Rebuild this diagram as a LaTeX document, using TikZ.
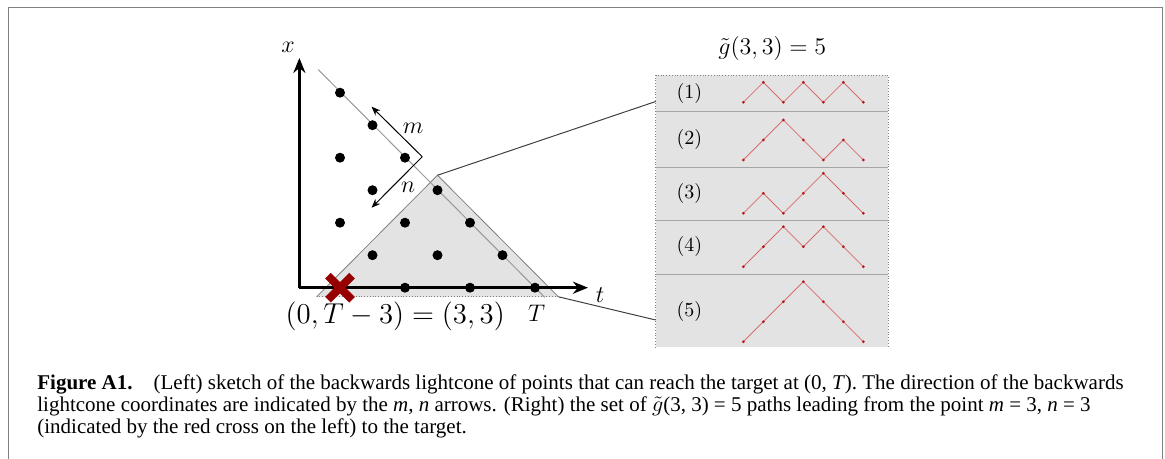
\documentclass[tikz,border=0pt]{standalone}
\usepackage{fontspec}
\setmainfont{Liberation Serif}
\usetikzlibrary{arrows, arrows.meta, positioning, calc}
\usepackage{xcolor}

\definecolor{crossred}{RGB}{150,0,0}
\definecolor{pathred}{RGB}{215,110,110}
\definecolor{pathdot}{RGB}{190,20,20}

\begin{document}
\begin{tikzpicture}[x=0.5pt, y=-0.5pt,
    dotnode/.style={circle, fill=black, inner sep=0pt, minimum size=5pt},
    axis/.style={-{Stealth[length=7.5pt,width=6pt]}, line width=1.3pt},
    lcarrow/.style={-{Stealth[length=4.5pt,width=3.5pt]}, line width=0.5pt},
    bigmath/.style={font=\fontsize{13}{15}\selectfont},
    pathline/.style={pathred, line width=0.4pt},
    zoomline/.style={black!75, line width=0.5pt}]
\useasboundingbox (0,0) rectangle (1165,459);
% frame
\draw[black!50, line width=0.8pt] (8.5,459) -- (8.5,7.5) -- (1162.5,7.5) -- (1162.5,459);

% backwards lightcone
\begin{scope}[shift={(340,287.7)}, x=16.25pt, y=16.25pt]
  \coordinate (apex) at (3,3.46);
  \coordinate (bl) at (-0.72,-0.28);
  \coordinate (br) at (6.72,-0.28);
  \fill[gray!22] (bl) -- (apex) -- (br) -- cycle;
  \draw[gray, line width=0.4pt] (bl) -- (apex) -- (br);
  \draw[gray, densely dotted, line width=0.4pt] (bl) -- (br);
  \coordinate (d1) at (-0.67,6.71);
  \coordinate (d2) at (6.3,-0.3);
  \draw[gray!80, line width=0.5pt] (d1) -- (d2);
  \coordinate (o) at (-1.25,0);
  \coordinate (xtip) at (-1.25,7.07);
  \coordinate (ttip) at (7.63,0);
  \draw[axis] (o) -- (xtip);
  \draw[axis] (o) -- (ttip);
  \node[bigmath] (xlab) at (-1.6,7.4) {$x$};
  \node[bigmath] (tlab) at (8.0,-0.22) {$t$};
  \foreach \s in {2,4,6}
    \foreach \i in {0,...,\s}
      \node[dotnode] (dot-\i-\s) at (\i,\s-\i) {};
  % red cross at m=3, n=3
  \draw[crossred, line width=4pt] (-0.37,-0.37) -- (0.37,0.37) (-0.37,0.37) -- (0.37,-0.37);
  % m, n directions
  \coordinate (bend) at (2.53,4.03);
  \coordinate (mtip) at (0.97,5.57);
  \coordinate (ntip) at (0.97,2.46);
  \draw[lcarrow] (bend) -- (mtip);
  \draw[lcarrow] (bend) -- (ntip);
  \node[bigmath] (mlab) at (2.25,4.91) {$m$};
  \node[bigmath] (nlab) at (2.1,3.1) {$n$};
  \node[bigmath] (Tlab) at (6.05,-0.78) {$T$};
  \node[font=\fontsize{14.8}{17}\selectfont] (start) at (1.7,-0.87) {$(0,T-3)=(3,3)$};
\end{scope}

% the five paths
\node[bigmath] (title) at (772.3,48.3) {$\tilde g(3,3)=5$};
\fill[gray!22] (655.7,75) rectangle (888.3,347.3);
\draw[gray, densely dotted] (655.7,347.3) -- (655.7,75) -- (888.3,75) -- (888.3,347.3);
\foreach \y in {111.7,167.3,220.7,274.3}
  \draw[gray!70, line width=0.6pt] (655.7,\y) -- (888.3,\y);
\foreach \r/\base/\ly/\hs in {1/102.3/93.3/{0,1,0,1,0,1,0}, 2/160/140/{0,1,2,1,0,1,0},
    3/213.3/193.3/{0,1,0,1,2,1,0}, 4/266.7/246.7/{0,1,2,1,2,1,0}, 5/341.7/311/{0,1,2,3,2,1,0}} {
  \node (lab\r) at (689.3,\ly) {$(\r)$};
  \foreach \h [count=\k from 0] in \hs
    \coordinate (p\r-\k) at (743.3+20*\k, \base-20*\h);
  \draw[pathline] (p\r-0) \foreach \k in {1,...,6} {-- (p\r-\k)};
  \foreach \k in {0,...,6}
    \fill[pathdot] (p\r-\k) circle (0.75pt);
}
\coordinate (zin1) at (655.7,101.5);
\coordinate (zin2) at (655.7,320);
\draw[zoomline] (apex) -- (zin1);
\draw[zoomline] (br) -- (zin2);

% caption
\node[anchor=north west, inner sep=0pt, align=left, font=\fontsize{10.5}{11}\selectfont] (caption) at (37,374)
  {\textbf{Figure A1.}\quad (Left) sketch of the backwards lightcone of points that can reach the target at (0, \textit{T}). The direction of the backwards\\
   lightcone coordinates are indicated by the \textit{m}, \textit{n} arrows. (Right) the set of $\tilde{g}$(3, 3) = 5 paths leading from the point \textit{m} = 3, \textit{n} = 3\\
   (indicated by the red cross on the left) to the target.};
\end{tikzpicture}
\end{document}
